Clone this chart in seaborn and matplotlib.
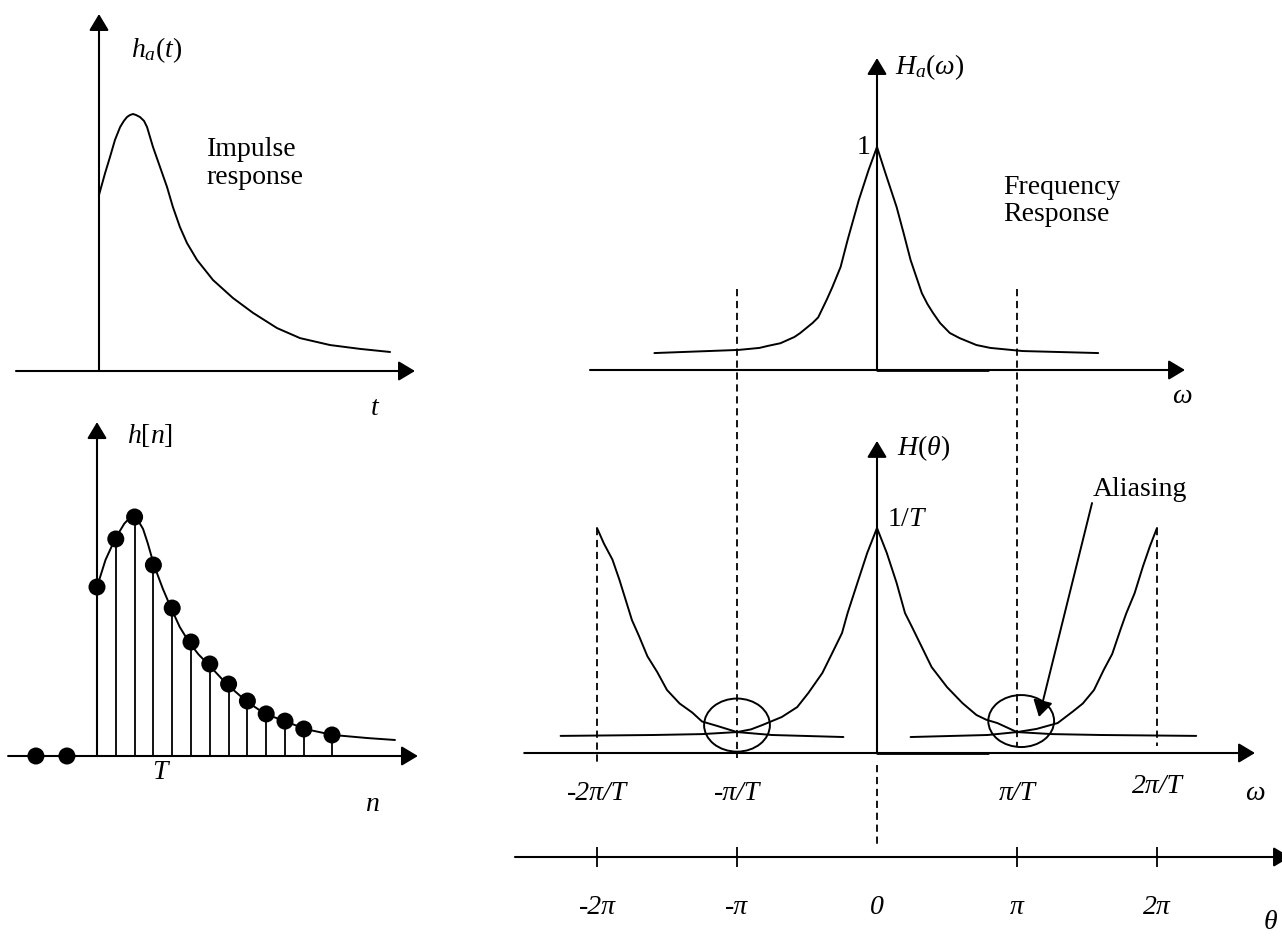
import numpy as np
import pandas as pd
import seaborn as sns
import matplotlib.pyplot as plt
from matplotlib.patches import Ellipse

# ---- data ----
# analog impulse response h_a(t); t in units of T, peak normalised to 1
t_cont = [0, 0.32, 0.58, 0.84, 1.11, 1.3, 1.47, 1.63, 1.79, 1.95, 2.16, 2.37, 2.53, 2.84, 3.21, 3.58, 3.89,
          4.26, 4.63, 5.16, 6.0, 7.05, 8.11, 9.37, 10.58, 12.16, 13.74, 15.32]
ha_cont = [0.685, 0.77, 0.833, 0.899, 0.949, 0.972, 0.988, 0.996, 1.0, 0.996, 0.988, 0.973, 0.949, 0.872,
           0.794, 0.716, 0.638, 0.56, 0.498, 0.432, 0.354, 0.284, 0.226, 0.167, 0.128, 0.101, 0.086, 0.074]

# sampled response h[n]
n_samples = [0, 1, 2, 3, 4, 5, 6, 7, 8, 9, 10, 11, 12.5]
h_samples = [0.707, 0.908, 1.0, 0.799, 0.619, 0.477, 0.385, 0.301, 0.23, 0.176, 0.146, 0.113, 0.088]
n_zero = [-3.25, -1.6]
n_curve = [0, 0.45, 0.96, 1.45, 1.7, 1.86, 2.0, 2.15, 2.45, 2.7, 3.03, 3.5, 3.94, 4.4, 4.89, 5.4,
           5.9, 6.9, 7.93, 8.94, 10.0, 11.06, 12.55, 14.4, 15.85]
h_curve = [0.707, 0.82, 0.908, 0.972, 0.993, 1.0, 0.998, 0.99, 0.95, 0.89, 0.799, 0.7, 0.619, 0.54,
           0.477, 0.425, 0.385, 0.301, 0.23, 0.176, 0.146, 0.113, 0.088, 0.075, 0.067]

# analog frequency response H_a(w); w in units of pi/T
w_ha = [-1.59, -0.99, -0.84, -0.78, -0.69, -0.59, -0.55, -0.46, -0.42, -0.36, -0.32, -0.26, -0.21, -0.13,
        -0.06, 0, 0.06, 0.14, 0.19, 0.24, 0.32, 0.36, 0.4, 0.45, 0.52, 0.59, 0.71, 0.81, 1.04, 1.58]
Ha = [0.076, 0.09, 0.099, 0.108, 0.12, 0.148, 0.165, 0.211, 0.236, 0.314, 0.37, 0.462, 0.583, 0.762,
      0.897, 1.0, 0.883, 0.731, 0.614, 0.493, 0.345, 0.296, 0.256, 0.211, 0.166, 0.143, 0.112, 0.099,
      0.085, 0.076]

# periodic spectrum H(theta): central copy and the two neighbours (units of 1/T)
w_c = [-2.26, -1.6, -1.25, -1.0, -0.9, -0.82, -0.68, -0.57, -0.49, -0.39, -0.32, -0.25, -0.21, -0.14,
       -0.07, 0, 0.07, 0.14, 0.2, 0.25, 0.32, 0.39, 0.5, 0.61, 0.71, 0.78, 0.86, 1.0, 1.25, 1.6, 2.28]
H_c = [0.076, 0.08, 0.084, 0.093, 0.105, 0.124, 0.16, 0.204, 0.267, 0.356, 0.444, 0.533, 0.622, 0.756,
       0.889, 1.0, 0.889, 0.756, 0.622, 0.56, 0.471, 0.382, 0.293, 0.222, 0.169, 0.148, 0.133, 0.093,
       0.084, 0.08, 0.076]
w_l = [-2.0, -1.95, -1.89, -1.84, -1.79, -1.75, -1.7, -1.64, -1.57, -1.5, -1.41, -1.32, -1.25,
       -1.14, -1.0, -0.75, -0.24]
H_l = [1.0, 0.93, 0.86, 0.77, 0.67, 0.59, 0.52, 0.43, 0.36, 0.28, 0.22, 0.18, 0.14, 0.12, 0.093, 0.08, 0.071]
w_r = [2.0, 1.95, 1.9, 1.84, 1.78, 1.74, 1.68, 1.62, 1.55, 1.47, 1.4, 1.29, 1.14, 1.0, 0.79, 0.24]
H_r = [1.0, 0.92, 0.83, 0.71, 0.62, 0.55, 0.44, 0.37, 0.28, 0.22, 0.185, 0.133, 0.107, 0.093, 0.08, 0.071]

omega_ticks = [-2, -1, 1, 2]
omega_labels = ['-2π/T', '-π/T', 'π/T', '2π/T']
theta_ticks = [-2, -1, 0, 1, 2]
theta_labels = ['-2π', '-π', '0', 'π', '2π']

# ---- style ----
sns.set_theme(style="white")
plt.rcParams['font.family'] = ['Liberation Serif', 'DejaVu Serif']
plt.rcParams['text.color'] = 'black'
plt.rcParams['mathtext.fontset'] = 'custom'
plt.rcParams['mathtext.rm'] = 'Liberation Serif'
plt.rcParams['mathtext.it'] = 'Liberation Serif:italic'
plt.rcParams['mathtext.bf'] = 'Liberation Serif:bold'

W, H = 1282, 938
FS = 20
LW = 1.4
fig = plt.figure(figsize=(W / 100, H / 100), dpi=100)


def overlay(x0, xs, y0, ys):
    # full-figure transparent axes; pixel x = x0 + xs*x, pixel y = y0 - ys*y
    ax = fig.add_axes([0, 0, 1, 1])
    ax.patch.set_alpha(0)
    ax.axis('off')
    lims = ((-x0 / xs, (W - x0) / xs), ((y0 - H) / ys, y0 / ys))
    return ax, lims


def finish(ax, lims):
    ax.set_xlim(*lims[0])
    ax.set_ylim(*lims[1])


def arrow(ax, x0, y0, x1, y1, lw=1.5):
    ax.annotate('', xy=(x1, y1), xytext=(x0, y0),
                arrowprops=dict(arrowstyle='-|>,head_length=0.5,head_width=0.3', mutation_scale=20,
                                lw=lw, color='black', shrinkA=0, shrinkB=0),
                annotation_clip=False)


def curve(ax, x, y):
    sns.lineplot(x=x, y=y, ax=ax, color='black', lw=LW, sort=False, estimator=None,
                 solid_joinstyle='round')


dash = dict(color='black', lw=1.3, linestyle=(0, (4, 2.6)))

# ---- top-left: impulse response ----
axA, limA = overlay(99, 19, 371, 257)
arrow(axA, -4.37, 0, 16.63, 0)
arrow(axA, 0, 0, 0, 1.389)
curve(axA, t_cont, ha_cont)
axA.text(1.68, 1.249, r'$h_a(t)$', fontsize=FS, va='center', ha='left')
axA.text(5.68, 0.809, 'Impulse\nresponse', fontsize=FS, va='center', ha='left', linespacing=1.15)
axA.text(14.5, -0.144, 't', fontsize=FS, style='italic', ha='center', va='center')
finish(axA, limA)

# ---- bottom-left: samples ----
axB, limB = overlay(97, 18.8, 756, 239)
arrow(axB, -4.73, 0, 17.07, 0)
arrow(axB, 0, 0, 0, 1.397)
axB.vlines(n_samples, 0, h_samples, color='black', lw=1.3)
curve(axB, n_curve, h_curve)
sns.scatterplot(x=n_samples + n_zero, y=h_samples + [0] * len(n_zero), ax=axB,
                color='black', s=150, edgecolor='none', zorder=5)
axB.text(1.6, 1.343, r'$h[n]$', fontsize=FS, va='center', ha='left')
axB.text(3.35, -0.071, 'T', fontsize=FS, style='italic', ha='center', va='center')
axB.text(14.63, -0.205, 'n', fontsize=FS, style='italic', ha='center', va='center')
finish(axB, limB)

# ---- top-right: analog frequency response ----
axC, limC = overlay(877, 140, 370, 223)
arrow(axC, -2.05, 0, 2.2, 0)
arrow(axC, 0, 0, 0, 1.399)
axC.plot([0, 0.79], [0, 0], color='black', lw=2.0)
curve(axC, w_ha, Ha)
axC.text(0.129, 1.359, r'$H_a(\omega)$', fontsize=FS, va='center', ha='left')
axC.text(-0.043, 0.996, '1', fontsize=FS, va='center', ha='right')
axC.text(0.9, 0.758, 'Frequency\nResponse', fontsize=FS, va='center', ha='left', linespacing=1.15)
axC.text(2.18, -0.121, 'ω', fontsize=FS, style='italic', ha='center', va='center')
finish(axC, limC)

# ---- bottom-right: sampled spectrum with aliasing ----
axD, limD = overlay(877, 140, 753, 225)
arrow(axD, -2.52, 0, 2.7, 0)
arrow(axD, 0, 0, 0, 1.387)
axD.plot([0, 0.79], [0, 0], color='black', lw=2.0)
curve(axD, w_c, H_c)
curve(axD, w_l, H_l)
curve(axD, w_r, H_r)
axD.plot([-1, -1], [2.06, -0.02], clip_on=False, **dash)
axD.plot([1, 1], [2.06, 0.03], clip_on=False, **dash)
axD.plot([-2, -2], [1.0, -0.05], clip_on=False, **dash)
axD.plot([2, 2], [1.0, 0.03], clip_on=False, **dash)
axD.add_patch(Ellipse((-1.0, 0.124), 0.47, 0.236, fill=False, color='black', lw=LW))
axD.add_patch(Ellipse((1.03, 0.142), 0.47, 0.231, fill=False, color='black', lw=LW))
arrow(axD, 1.536, 1.111, 1.157, 0.16, lw=LW)
axD.text(0.143, 1.356, r'$H(\theta)$', fontsize=FS, va='center', ha='left')
axD.text(0.071, 1.036, r'$1/T$', fontsize=FS, va='center', ha='left')
axD.text(1.543, 1.169, 'Aliasing', fontsize=FS, va='center', ha='left')
for w, lab in zip(omega_ticks, omega_labels):
    axD.text(w, -0.151 if w == 2 else -0.178, lab, fontsize=FS, style='italic', ha='center', va='center')
axD.text(2.7, -0.178, 'ω', fontsize=FS, style='italic', ha='center', va='center')
finish(axD, limD)

# ---- bottom strip: theta axis ----
axE, limE = overlay(877, 140, 857, 80)
arrow(axE, -2.586, 0, 2.95, 0)
axE.vlines([v for v in theta_ticks if v != 0], -0.125, 0.125, color='black', lw=1.3)
axE.plot([0, 0], [1.15, 0.1125], **dash)
for th, lab in zip(theta_ticks, theta_labels):
    axE.text(th, -0.625, lab, fontsize=FS, style='italic', ha='center', va='center')
axE.text(2.807, -0.8125, 'θ', fontsize=FS, style='italic', ha='center', va='center')
finish(axE, limE)

fig.savefig('out.png', dpi=100)
